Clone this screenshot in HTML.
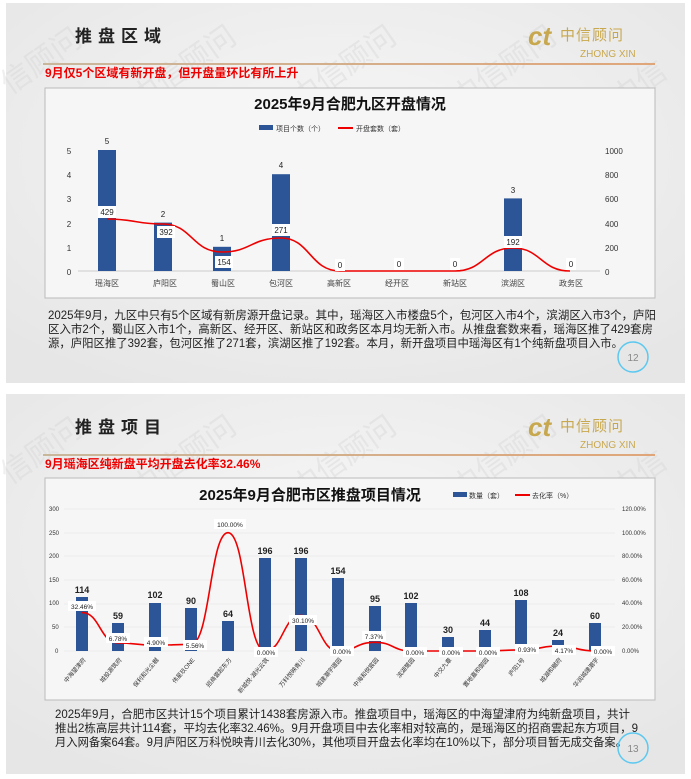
<!DOCTYPE html><html><head><meta charset="utf-8"><style>
body{margin:0;background:#fff;}
svg{display:block;font-family:"Liberation Sans","Noto Sans CJK SC",sans-serif;}
</style></head><body>
<svg width="691" height="779" viewBox="0 0 691 779" xmlns="http://www.w3.org/2000/svg">
<defs>
<radialGradient id="bg" cx="50%" cy="40%" r="70%"><stop offset="0" stop-color="#f7f7f7"/><stop offset="1" stop-color="#e6e6e6"/></radialGradient>
<linearGradient id="ln" x1="0" x2="1"><stop offset="0" stop-color="#c9b79c"/><stop offset="1" stop-color="#e0a67a"/></linearGradient>
</defs>
<rect width="691" height="779" fill="#fff"/>
<!-- slide 1 -->
<rect x="6" y="3" width="679" height="380" fill="url(#bg)"/>
<g fill="#d0d0d0" opacity="0.35" font-size="30">
<text transform="translate(10,95) rotate(-35)">信顾问</text>
<text transform="translate(140,110) rotate(-35)">中信顾问</text>
<text transform="translate(300,110) rotate(-35)">中信顾问</text>
<text transform="translate(460,110) rotate(-35)">中信顾问</text>
<text transform="translate(620,110) rotate(-35)">中信</text>
<text transform="translate(140,290) rotate(-35)">中信顾问</text>
<text transform="translate(300,290) rotate(-35)">中信顾问</text>
<text transform="translate(460,290) rotate(-35)">中信顾问</text>
</g>
<text x="75" y="42" font-size="17" font-weight="bold" fill="#222" letter-spacing="6">推盘区域</text>
<rect x="43" y="63" width="612" height="2" fill="url(#ln)"/>
<text x="528" y="45" font-size="26" font-style="italic" font-weight="bold" fill="#c8a84e">ct</text>
<text x="560" y="40" font-size="15" fill="#c8a84e" letter-spacing="1">中信顾问</text>
<text x="580" y="57" font-size="10" fill="#c8a84e">ZHONG XIN</text>
<text x="45" y="77" font-size="12" font-weight="bold" fill="#e00">9月仅5个区域有新开盘，但开盘量环比有所上升</text>
<rect x="45" y="88" width="610" height="210" fill="#f6f6f6" stroke="#bbb"/>
<text x="350" y="109" font-size="15" font-weight="bold" text-anchor="middle" fill="#111">2025年9月合肥九区开盘情况</text>
<rect x="259" y="125" width="14" height="5" fill="#2b5597"/>
<text x="276" y="131" font-size="7" fill="#333">项目个数（个）</text>
<rect x="338" y="127" width="15" height="2" fill="#e00"/>
<text x="356" y="131" font-size="7" fill="#333">开盘套数（套）</text>
<g font-size="8" fill="#333">
<text x="69" y="154" text-anchor="middle">5</text><text x="69" y="178" text-anchor="middle">4</text><text x="69" y="202" text-anchor="middle">3</text><text x="69" y="227" text-anchor="middle">2</text><text x="69" y="251" text-anchor="middle">1</text><text x="69" y="275" text-anchor="middle">0</text>
<text x="605" y="154">1000</text><text x="605" y="178">800</text><text x="605" y="202">600</text><text x="605" y="227">400</text><text x="605" y="251">200</text><text x="605" y="275">0</text>
</g>
<line x1="78" y1="271" x2="600" y2="271" stroke="#ccc"/>
<g fill="#2b5597">
<rect x="98" y="150" width="18" height="121"/><rect x="154" y="222.6" width="18" height="48.4"/><rect x="213" y="246.8" width="18" height="24.2"/><rect x="272" y="174.2" width="18" height="96.8"/><rect x="504" y="198.4" width="18" height="72.6"/>
</g>
<g font-size="8" fill="#222" text-anchor="middle">
<text x="107" y="144">5</text><text x="163" y="217">2</text><text x="222" y="241">1</text><text x="281" y="168">4</text><text x="513" y="193">3</text>
</g>
<path d="M107,219 C135,219 135,224 163,224 C192,224 192,252 222,252 C251,252 251,238 281,238 C310,238 310,271 340,271 L455,271 C484,271 484,248 513,248 C541,248 541,271 570,271" fill="none" stroke="#e00" stroke-width="1.6"/>
<g font-size="8" fill="#222" text-anchor="middle">
<rect x="98" y="206" width="18" height="12" fill="#fff"/><text x="107" y="215">429</text>
<rect x="157" y="226" width="18" height="12" fill="#fff"/><text x="166" y="235">392</text>
<rect x="215" y="256" width="18" height="12" fill="#fff"/><text x="224" y="265">154</text>
<rect x="272" y="224" width="18" height="12" fill="#fff"/><text x="281" y="233">271</text>
<rect x="335" y="259" width="10" height="12" fill="#fff"/><text x="340" y="268">0</text>
<rect x="394" y="258" width="10" height="12" fill="#fff"/><text x="399" y="267">0</text>
<rect x="450" y="258" width="10" height="12" fill="#fff"/><text x="455" y="267">0</text>
<rect x="504" y="236" width="18" height="12" fill="#fff"/><text x="513" y="245">192</text>
<rect x="566" y="258" width="10" height="12" fill="#fff"/><text x="571" y="267">0</text>
</g>
<g font-size="8" fill="#444" text-anchor="middle">
<text x="107" y="286">瑶海区</text><text x="165" y="286">庐阳区</text><text x="223" y="286">蜀山区</text><text x="281" y="286">包河区</text><text x="339" y="286">高新区</text><text x="397" y="286">经开区</text><text x="455" y="286">新站区</text><text x="513" y="286">滨湖区</text><text x="571" y="286">政务区</text>
</g>
<g font-size="11.5" fill="#222">
<text x="48" y="319" textLength="608" lengthAdjust="spacingAndGlyphs">2025年9月，九区中只有5个区域有新房源开盘记录。其中，瑶海区入市楼盘5个，包河区入市4个，滨湖区入市3个，庐阳</text>
<text x="48" y="333" textLength="605" lengthAdjust="spacingAndGlyphs">区入市2个，蜀山区入市1个，高新区、经开区、新站区和政务区本月均无新入市。从推盘套数来看，瑶海区推了429套房</text>
<text x="48" y="347" textLength="575" lengthAdjust="spacingAndGlyphs">源，庐阳区推了392套，包河区推了271套，滨湖区推了192套。本月，新开盘项目中瑶海区有1个纯新盘项目入市。</text>
</g>
<circle cx="633" cy="357" r="15" fill="none" stroke="#5bc8f0" stroke-width="1.5"/>
<text x="633" y="361" font-size="10" fill="#888" text-anchor="middle">12</text>

<!-- slide 2 -->
<rect x="6" y="394" width="679" height="380" fill="url(#bg)"/>
<g fill="#d0d0d0" opacity="0.35" font-size="30">
<text transform="translate(10,485) rotate(-35)">信顾问</text>
<text transform="translate(140,500) rotate(-35)">中信顾问</text>
<text transform="translate(300,500) rotate(-35)">中信顾问</text>
<text transform="translate(460,500) rotate(-35)">中信顾问</text>
<text transform="translate(620,500) rotate(-35)">中信</text>
<text transform="translate(140,680) rotate(-35)">中信顾问</text>
<text transform="translate(300,680) rotate(-35)">中信顾问</text>
<text transform="translate(460,680) rotate(-35)">中信顾问</text>
</g>
<text x="75" y="433" font-size="17" font-weight="bold" fill="#222" letter-spacing="6">推盘项目</text>
<rect x="43" y="454" width="612" height="2" fill="url(#ln)"/>
<text x="528" y="436" font-size="26" font-style="italic" font-weight="bold" fill="#c8a84e">ct</text>
<text x="560" y="431" font-size="15" fill="#c8a84e" letter-spacing="1">中信顾问</text>
<text x="580" y="448" font-size="10" fill="#c8a84e">ZHONG XIN</text>
<text x="45" y="468" font-size="12" font-weight="bold" fill="#e00">9月瑶海区纯新盘平均开盘去化率32.46%</text>
<rect x="45" y="478" width="610" height="222" fill="#f6f6f6" stroke="#bbb"/>
<text x="310" y="500" font-size="15" font-weight="bold" text-anchor="middle" fill="#111">2025年9月合肥市区推盘项目情况</text>
<rect x="453" y="492" width="14" height="5" fill="#2b5597"/>
<text x="469" y="498" font-size="7" fill="#333">数量（套）</text>
<rect x="515" y="494" width="15" height="2" fill="#e00"/>
<text x="532" y="498" font-size="7" fill="#333">去化率（%）</text>
<g font-size="6" fill="#333">
<text x="49" y="511">300</text><text x="49" y="535">250</text><text x="49" y="558">200</text><text x="49" y="582">150</text><text x="49" y="605">100</text><text x="52" y="629">50</text><text x="55" y="653">0</text>
<text x="622" y="511">120.00%</text><text x="622" y="535">100.00%</text><text x="622" y="558">80.00%</text><text x="622" y="582">60.00%</text><text x="622" y="605">40.00%</text><text x="622" y="629">20.00%</text><text x="622" y="653">0.00%</text>
</g>
<g stroke="#e2e2e2" stroke-width="0.6">
<line x1="64" y1="509" x2="615" y2="509"/><line x1="64" y1="533" x2="615" y2="533"/><line x1="64" y1="556" x2="615" y2="556"/><line x1="64" y1="580" x2="615" y2="580"/><line x1="64" y1="604" x2="615" y2="604"/><line x1="64" y1="627" x2="615" y2="627"/><line x1="64" y1="651" x2="615" y2="651"/>
</g>
<g fill="#2b5597">
<rect x="76" y="597" width="12" height="54"/><rect x="112" y="623" width="12" height="28"/><rect x="149" y="603" width="12" height="48"/><rect x="185" y="608" width="12" height="43"/><rect x="222" y="621" width="12" height="30"/><rect x="259" y="558" width="12" height="93"/><rect x="295" y="558" width="12" height="93"/><rect x="332" y="578" width="12" height="73"/><rect x="369" y="606" width="12" height="45"/><rect x="405" y="603" width="12" height="48"/><rect x="442" y="637" width="12" height="14"/><rect x="479" y="630" width="12" height="21"/><rect x="515" y="600" width="12" height="51"/><rect x="552" y="640" width="12" height="11"/><rect x="589" y="623" width="12" height="28"/>
</g>
<g font-size="9" font-weight="bold" fill="#222" text-anchor="middle">
<text x="82" y="593">114</text><text x="118" y="619">59</text><text x="155" y="598">102</text><text x="191" y="604">90</text><text x="228" y="617">64</text><text x="265" y="554">196</text><text x="301" y="554">196</text><text x="338" y="574">154</text><text x="375" y="602">95</text><text x="411" y="599">102</text><text x="448" y="633">30</text><text x="485" y="626">44</text><text x="521" y="596">108</text><text x="558" y="636">24</text><text x="595" y="619">60</text>
</g>
<path d="M82,612.6 C100,612.6 100,643 118,643 C136,643 136,645.2 155,645.2 C173,645.2 173,644.4 191,644.4 C210,644.4 210,532.7 228,532.7 C246,532.7 246,651 265,651 C283,651 283,615.4 301,615.4 C320,615.4 320,651 338,651 C356,651 356,642.3 375,642.3 C393,642.3 393,651 411,651 L485,651 C503,651 503,649.9 521,649.9 C540,649.9 540,646 558,646 C576,646 576,651 595,651" fill="none" stroke="#e00" stroke-width="1.6"/>
<g font-size="6.5" fill="#222" text-anchor="middle">
<rect x="68" y="601" width="28" height="10" fill="#fff"/><text x="82" y="609">32.46%</text>
<rect x="106" y="633" width="24" height="10" fill="#fff"/><text x="118" y="641">6.78%</text>
<rect x="144" y="637" width="24" height="10" fill="#fff"/><text x="156" y="645">4.90%</text>
<rect x="183" y="640" width="24" height="10" fill="#fff"/><text x="195" y="648">5.56%</text>
<rect x="214" y="519" width="32" height="10" fill="#fff"/><text x="230" y="527">100.00%</text>
<rect x="254" y="647" width="24" height="10" fill="#fff"/><text x="266" y="655">0.00%</text>
<rect x="289" y="615" width="28" height="10" fill="#fff"/><text x="303" y="623">30.10%</text>
<rect x="330" y="646" width="24" height="10" fill="#fff"/><text x="342" y="654">0.00%</text>
<rect x="362" y="631" width="24" height="10" fill="#fff"/><text x="374" y="639">7.37%</text>
<rect x="403" y="647" width="24" height="10" fill="#fff"/><text x="415" y="655">0.00%</text>
<rect x="439" y="647" width="24" height="10" fill="#fff"/><text x="451" y="655">0.00%</text>
<rect x="476" y="647" width="24" height="10" fill="#fff"/><text x="488" y="655">0.00%</text>
<rect x="515" y="644" width="24" height="10" fill="#fff"/><text x="527" y="652">0.93%</text>
<rect x="552" y="645" width="24" height="10" fill="#fff"/><text x="564" y="653">4.17%</text>
<rect x="591" y="646" width="24" height="10" fill="#fff"/><text x="603" y="654">0.00%</text>
</g>
<g font-size="6" fill="#333" text-anchor="end">
<text transform="translate(86,660) rotate(-50)">中海望津府</text>
<text transform="translate(122,660) rotate(-50)">城投源筑府</text>
<text transform="translate(159,660) rotate(-50)">保利和光尘樾</text>
<text transform="translate(195,660) rotate(-50)">伟星玖ONE</text>
<text transform="translate(232,660) rotate(-50)">招商雲起东方</text>
<text transform="translate(269,660) rotate(-50)">新城悦·湖光云筑</text>
<text transform="translate(305,660) rotate(-50)">万科悦映青川</text>
<text transform="translate(342,660) rotate(-50)">城建潮宇璟园</text>
<text transform="translate(379,660) rotate(-50)">中海和悦宸园</text>
<text transform="translate(415,660) rotate(-50)">滨湖鹭园</text>
<text transform="translate(452,660) rotate(-50)">中交九章</text>
<text transform="translate(489,660) rotate(-50)">置地嘉和御园</text>
<text transform="translate(525,660) rotate(-50)">庐阳1号</text>
<text transform="translate(562,660) rotate(-50)">城湖和樾府</text>
<text transform="translate(599,660) rotate(-50)">华润城建潮宇</text>
</g>
<g font-size="11.5" fill="#222">
<text x="55" y="718" textLength="575" lengthAdjust="spacingAndGlyphs">2025年9月，合肥市区共计15个项目累计1438套房源入市。推盘项目中，瑶海区的中海望津府为纯新盘项目，共计</text>
<text x="55" y="732" textLength="583" lengthAdjust="spacingAndGlyphs">推出2栋高层共计114套，平均去化率32.46%。9月开盘项目中去化率相对较高的，是瑶海区的招商雲起东方项目，9</text>
<text x="55" y="746" textLength="572" lengthAdjust="spacingAndGlyphs">月入网备案64套。9月庐阳区万科悦映青川去化30%，其他项目开盘去化率均在10%以下，部分项目暂无成交备案。</text>
</g>
<circle cx="633" cy="748" r="15" fill="none" stroke="#5bc8f0" stroke-width="1.5"/>
<text x="633" y="752" font-size="10" fill="#888" text-anchor="middle">13</text>
</svg>
</body></html>
